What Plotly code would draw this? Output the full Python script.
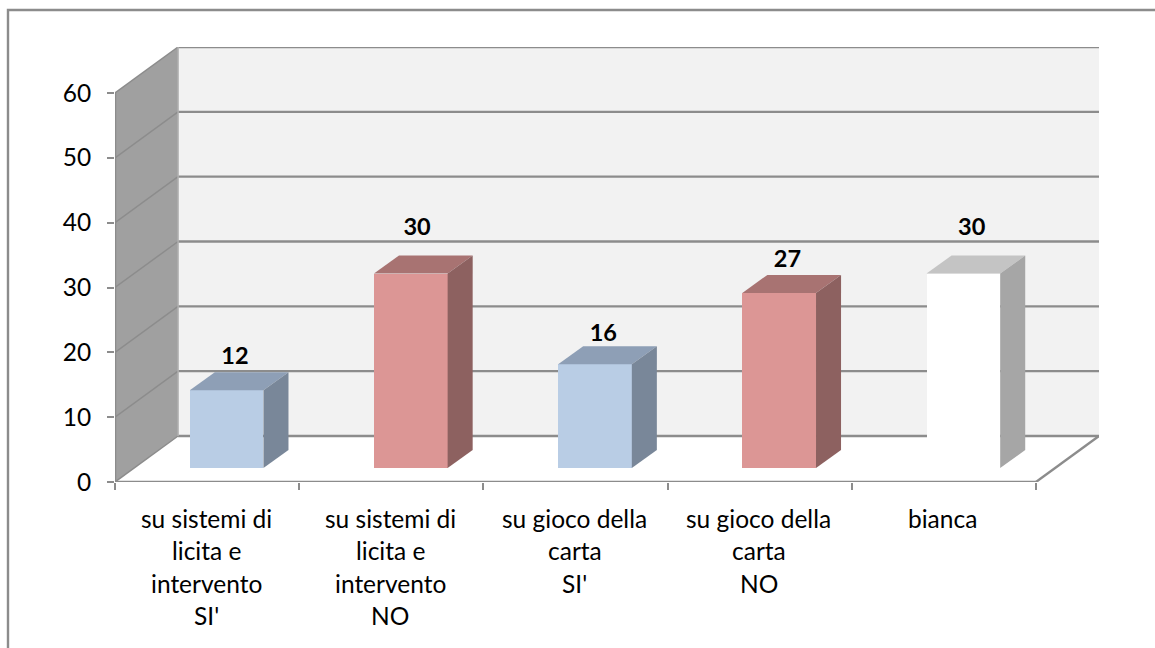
import plotly.graph_objects as go

categories = [
    ["su sistemi di", "licita e", "intervento", "SI'"],
    ["su sistemi di", "licita e", "intervento", "NO"],
    ["su gioco della", "carta", "SI'"],
    ["su gioco della", "carta", "NO"],
    ["bianca"],
]
values = [12, 30, 16, 27, 30]
y_ticks = [0, 10, 20, 30, 40, 50, 60]

front_colors = ["#b9cde5", "#dc9695", "#b9cde5", "#dc9695", "#ffffff"]
top_colors = ["#8e9fb6", "#a87372", "#8e9fb6", "#a87372", "#c4c4c4"]
side_colors = ["#798799", "#8d6160", "#798799", "#8d6160", "#a6a6a6"]

FONT = "Lato"
FS = 24.5
LINE = "#8c8c8c"
# projection of the chart's depth, in axis units
WALL_DX, WALL_DY = 63 / 184, 46 / 6.483
BAR_DX, BAR_DY = 25 / 184, 18 / 6.483
BAR_BASE = 14 / 6.483
BAR_OFF, BAR_W = 0.606, 0.40
XMAX, YMAX = 5 + WALL_DX, 60 + WALL_DY
# where each data label sits relative to its bar, in axis units
LABEL_SHIFT_X = [0.045, 0.034, 0.045, 0.045, 0.045]
LABEL_LIFT = [4.9, 6.9, 4.45, 4.9, 6.9]

fig = go.Figure()
shapes = []


def poly(pts, fill, line=None, width=0):
    path = "M" + " L".join(f"{x},{y}" for x, y in pts) + " Z"
    shapes.append(dict(type="path", path=path, xref="x", yref="y", fillcolor=fill, layer="below",
                       line=dict(color=line or fill, width=width)))


def seg(x0, y0, x1, y1, width=2, color=LINE):
    shapes.append(dict(type="line", x0=x0, y0=y0, x1=x1, y1=y1, xref="x", yref="y", layer="below",
                       line=dict(color=color, width=width)))


poly([(WALL_DX, WALL_DY), (XMAX, WALL_DY), (XMAX, YMAX), (WALL_DX, YMAX)], "#f2f2f2")
poly([(0, 0), (WALL_DX, WALL_DY), (WALL_DX, YMAX), (0, 60)], "#a0a0a0")
for t in y_ticks:
    seg(0, t, WALL_DX, t + WALL_DY, 1.5)
    seg(WALL_DX, t + WALL_DY, XMAX, t + WALL_DY, 2.4)
seg(5, 0, XMAX, WALL_DY, 2.4)
seg(WALL_DX, WALL_DY, WALL_DX, YMAX, 1.5, "#b0b0b0")

# outer chart frame: open at the right and bottom
fx, fy = (8 - 115) / 984, 1 + 37 / 435
shapes.append(dict(type="path", xref="paper", yref="paper", layer="below",
                   path=f"M{fx},{-166 / 435} L{fx},{fy} L{1040 / 984},{fy}",
                   line=dict(color=LINE, width=2.4)))

xs = [i + BAR_OFF for i in range(len(values))]
fig.add_trace(go.Bar(x=xs, y=values, base=BAR_BASE, width=BAR_W,
                     marker=dict(color=front_colors, line=dict(width=0)),
                     hoverinfo="skip", showlegend=False))

for i, v in enumerate(values):
    x0, x1 = xs[i] - BAR_W / 2, xs[i] + BAR_W / 2
    top = BAR_BASE + v
    fig.add_trace(go.Scatter(
        x=[x0, x1, x1 + BAR_DX, x0 + BAR_DX, x0], y=[top, top, top + BAR_DY, top + BAR_DY, top],
        mode="lines", fill="toself", fillcolor=top_colors[i], line=dict(width=0),
        hoverinfo="skip", showlegend=False))
    fig.add_trace(go.Scatter(
        x=[x1, x1 + BAR_DX, x1 + BAR_DX, x1, x1],
        y=[BAR_BASE, BAR_BASE + BAR_DY, top + BAR_DY, top, BAR_BASE],
        mode="lines", fill="toself", fillcolor=side_colors[i], line=dict(width=0),
        hoverinfo="skip", showlegend=False))

fig.add_trace(go.Scatter(
    x=[x + s for x, s in zip(xs, LABEL_SHIFT_X)],
    y=[BAR_BASE + v + d for v, d in zip(values, LABEL_LIFT)],
    mode="text", text=[str(v) for v in values], textposition="middle center",
    textfont=dict(family=FONT, size=23.5, color="#000000", weight="bold"),
    cliponaxis=False, hoverinfo="skip", showlegend=False))

annotations = []
for i, lines in enumerate(categories):
    for j, txt in enumerate(lines):
        annotations.append(dict(x=i + 0.495, y=0, xref="x", yref="y", text=txt, showarrow=False,
                                xanchor="center", yanchor="middle", yshift=-(36 + 32.5 * j),
                                font=dict(family=FONT, size=FS, color="#000000")))

fig.update_layout(
    width=1155, height=648, margin=dict(l=115, r=56, t=47, b=166, autoexpand=False),
    paper_bgcolor="#ffffff", plot_bgcolor="#ffffff", shapes=shapes, annotations=annotations,
    font=dict(family=FONT, size=FS, color="#000000"), showlegend=False, bargap=0,
    xaxis=dict(range=[0, XMAX], tickmode="array", tickvals=list(range(6)), ticktext=[""] * 6,
               showgrid=False, zeroline=False, showline=False, ticks="outside", ticklen=7,
               tickwidth=1.5, tickcolor=LINE, fixedrange=True),
    yaxis=dict(range=[0, YMAX], tickmode="array", tickvals=y_ticks, ticktext=[str(t) for t in y_ticks],
               showgrid=False, zeroline=False, showline=False, ticks="outside", ticklen=7,
               tickwidth=1.5, tickcolor=LINE, fixedrange=True, ticklabelstandoff=11),
)
for sh in [dict(x0=0, x1=5, y0=0, y1=0, w=2.5), dict(x0=0, x1=0, y0=0, y1=60, w=2.5)]:
    fig.add_shape(type="line", x0=sh["x0"], x1=sh["x1"], y0=sh["y0"], y1=sh["y1"], xref="x", yref="y",
                  layer="above", line=dict(color=LINE, width=sh["w"]))

fig.write_html("out.html", config={"displayModeBar": False},
               post_script="document.body.style.margin='0';")
